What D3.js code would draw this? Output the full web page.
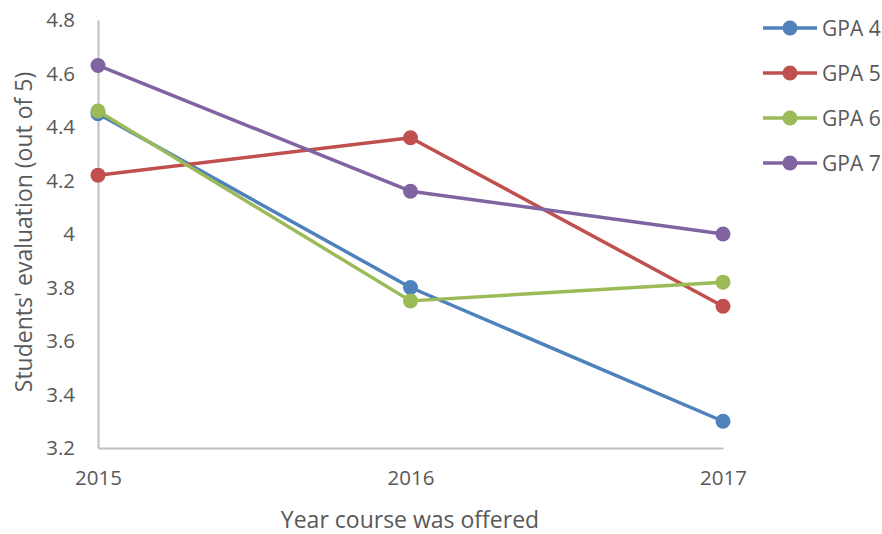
<!DOCTYPE html>
<html>
<head>
<meta charset="utf-8">
<script src="https://cdn.jsdelivr.net/npm/d3@7"></script>
<style>
  html, body { margin: 0; padding: 0; background: #fff; }
  svg text { font-family: "Open Sans", "Liberation Sans", sans-serif; fill: #595959; }
</style>
</head>
<body>
<svg id="chart" width="882" height="534"></svg>
<script>
// Years on the x axis
const years = ["2015", "2016", "2017"];
// Mean student evaluation per GPA group
const gpa4 = [4.45, 3.80, 3.30];
const gpa5 = [4.22, 4.36, 3.73];
const gpa6 = [4.46, 3.75, 3.82];
const gpa7 = [4.63, 4.16, 4.00];
const seriesNames = ["GPA 4", "GPA 5", "GPA 6", "GPA 7"];
const seriesColors = ["#4F81BD", "#C0504D", "#9BBB59", "#8064A2"];
const yTicks = [3.2, 3.4, 3.6, 3.8, 4, 4.2, 4.4, 4.6, 4.8];

const series = [gpa4, gpa5, gpa6, gpa7].map((vals, i) => ({
  name: seriesNames[i],
  color: seriesColors[i],
  values: vals.map((v, j) => ({ year: years[j], value: v }))
}));

const svg = d3.select("#chart");
const plot = { left: 98, right: 723, top: 20, bottom: 448 };

const x = d3.scalePoint().domain(years).range([plot.left, plot.right]);
const y = d3.scaleLinear().domain([3.2, 4.8]).range([plot.bottom, plot.top]);

const tickFont = 20.5;
const titleFont = 23;

// Left axis
const yAxis = svg.append("g")
  .attr("transform", `translate(${plot.left},0)`)
  .call(d3.axisLeft(y).tickValues(yTicks).tickFormat(d3.format("~g")).tickSize(0).tickPadding(23));
yAxis.select(".domain").attr("stroke", "#BFBFBF").attr("stroke-width", 2);
yAxis.selectAll("text").style("font-size", tickFont + "px").attr("fill", "#595959");

// Bottom axis
const xAxis = svg.append("g")
  .attr("transform", `translate(0,${plot.bottom})`)
  .call(d3.axisBottom(x).tickSize(0).tickPadding(22));
xAxis.select(".domain").attr("stroke", "#BFBFBF").attr("stroke-width", 2);
xAxis.selectAll("text").style("font-size", tickFont + "px").attr("fill", "#595959");

// Axis titles
svg.append("text")
  .attr("x", 410)
  .attr("y", 528)
  .attr("text-anchor", "middle")
  .style("font-size", titleFont + "px")
  .text("Year course was offered");

svg.append("text")
  .attr("transform", "translate(32,232) rotate(-90)")
  .attr("text-anchor", "middle")
  .style("font-size", titleFont + "px")
  .text("Students' evaluation (out of 5)");

// Lines and markers
const line = d3.line().x(d => x(d.year)).y(d => y(d.value));

const groups = svg.append("g").selectAll("g.series")
  .data(series).join("g").attr("class", "series");

groups.append("path")
  .attr("d", d => line(d.values))
  .attr("fill", "none")
  .attr("stroke", d => d.color)
  .attr("stroke-width", 3.5)
  .attr("stroke-linejoin", "round")
  .attr("stroke-linecap", "round");

groups.selectAll("circle")
  .data(d => d.values.map(v => ({ ...v, color: d.color })))
  .join("circle")
  .attr("cx", d => x(d.year))
  .attr("cy", d => y(d.value))
  .attr("r", 7.5)
  .attr("fill", d => d.color);

// Legend
const legend = svg.append("g").selectAll("g.item")
  .data(series).join("g")
  .attr("class", "item")
  .attr("transform", (d, i) => `translate(763,${28 + i * 45})`);

legend.append("line")
  .attr("x1", 0).attr("x2", 54)
  .attr("stroke", d => d.color)
  .attr("stroke-width", 3.5);
legend.append("circle")
  .attr("cx", 27).attr("r", 7.5)
  .attr("fill", d => d.color);
legend.append("text")
  .attr("x", 59).attr("dy", "0.36em")
  .style("font-size", "21px")
  .text(d => d.name);
</script>
</body>
</html>
